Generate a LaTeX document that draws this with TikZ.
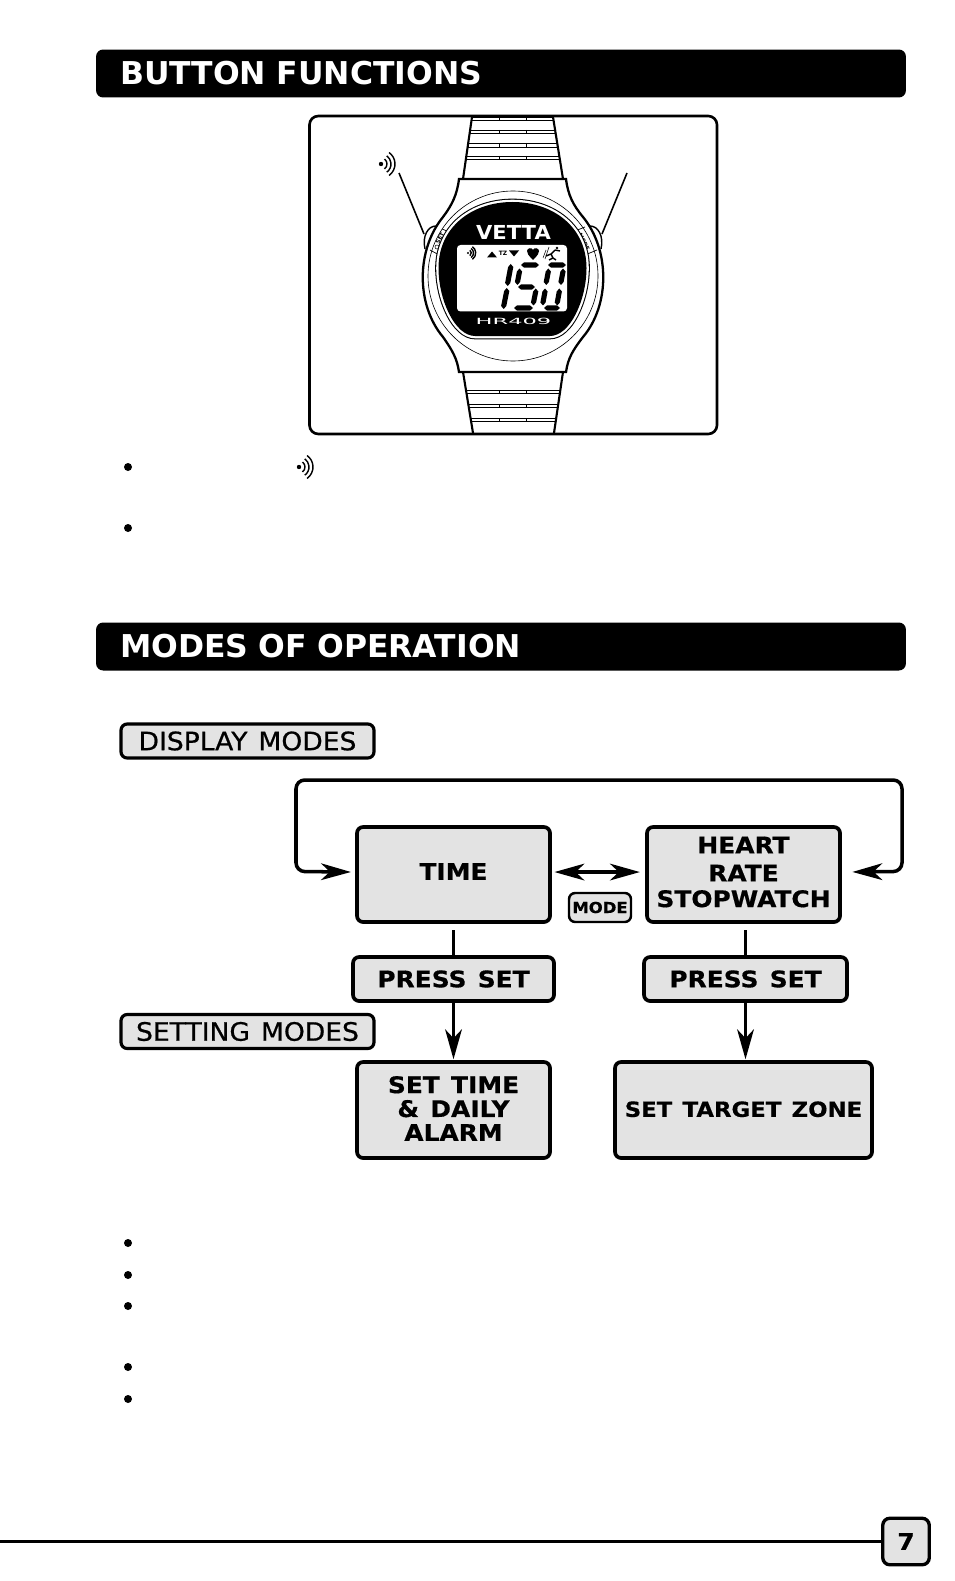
\documentclass[tikz,border=0pt]{standalone}
\usepackage{fontspec}
\setmainfont{DejaVu Sans}
\newfontface\titleFont[WordSpace=1.6]{DejaVu Sans Bold}
\newfontface\boxFont[FakeStretch=1.09,FakeBold=0.5,WordSpace=1.3]{DejaVu Sans Bold}
\newfontface\tagFont[FakeStretch=1.05,FakeBold=0.7,WordSpace=1.3]{DejaVu Sans}
\usetikzlibrary{arrows.meta}
\definecolor{boxGray}{HTML}{E3E3E3}
\newcommand{\signalIcon}[3]{%
  \begin{scope}[shift={(#1,#2)},scale=#3]
    \fill (0,0) circle (2.2);
    \foreach \r in {6,10,14}
    {
      \draw[line width=0.8pt] (55:\r) arc (55:-55:\r);
    }
  \end{scope}}
\def\faceShape{(438.5,268) .. controls (438.5,227) and (472,202) .. (512.5,202)
  .. controls (553,202) and (586.5,227) .. (586.5,268)
  .. controls (586.5,300) and (570,336) .. (550,336) -- (475,336)
  .. controls (455,336) and (438.5,300) .. (438.5,268) -- cycle}
\begin{document}
\begin{tikzpicture}
[x=0.02cm,y=-0.02cm,
  titleDecorate/.style={fill=black,text=white,rounded corners=4pt,inner ysep=0pt,
    inner xsep=0.48cm,text width=15.24cm,minimum height=0.96cm,align=left,
    font=\fontsize{17.9}{20}\titleFont},%
  tagDecorate/.style={draw,fill=boxGray,line width=1.8pt,rounded corners=3.5pt,
    inner sep=0pt,minimum width=5.06cm,minimum height=0.68cm,
    font=\fontsize{14.4}{16}\tagFont},%
  boxDecorate/.style={draw,fill=boxGray,line width=2.1pt,rounded corners=3.5pt,
    inner sep=0pt,align=center,font=\fontsize{13}{15.2}\boxFont},%
  lineDecorate/.style={line width=2pt},%
  arrowDecorate/.style={lineDecorate,-{Stealth[length=17pt,width=9.5pt,inset=5pt]}},%
  bothDecorate/.style={lineDecorate,
    {Stealth[length=17pt,width=9.5pt,inset=5pt]}-{Stealth[length=17pt,width=9.5pt,inset=5pt]}},%
  bandDecorate/.style={line width=0.5pt}]
\useasboundingbox (0,0) rectangle (954,1581);
%% headings
\node (buttonTitle) at (501,73.5) [titleDecorate] {BUTTON FUNCTIONS};
\node (modesTitle) at (501,646.5) [titleDecorate] {MODES OF OPERATION};
%% watch frame and strap
\draw[line width=1.5pt,rounded corners=5pt] (309.5,116) rectangle (717,434);
\draw[line width=1.2pt] (472,117) -- (463,179) (553,117) -- (563,179)
  (463,372) -- (473,433) (563,372) -- (554,433);
\foreach \y/\z/\xa/\xb in {117/120/472/553, 130/133/470/555, 143/147/468/557, 156/159/466/559,
  390/393/466/560, 404/407/468/558, 418/421/471/556}
{
  \draw[bandDecorate] (\xa,\y) -- (\xb,\y) (\xa,\z) -- (\xb,\z)
    (499,\y) -- (499,\z) (526,\y) -- (526,\z);
}
%% buttons and leaders
\draw[fill=white,line width=0.8pt] (436,226) .. controls (428,226) and (422,236) .. (425,249);
\draw[fill=white,line width=0.8pt] (590,226) .. controls (598,226) and (604,236) .. (601,249);
\draw[line width=0.9pt] (399,173) -- (424,234) (627,173) -- (602,234);
\signalIcon{381}{164}{1}
%% case
\draw[fill=white,line width=1.3pt] (459,179) -- (566,179)
  .. controls (568,195) and (573,205) .. (583,217)
  .. controls (610,250) and (610,305) .. (583,337)
  .. controls (573,350) and (568,358) .. (566,372) -- (459,372)
  .. controls (457,358) and (452,350) .. (443,337)
  .. controls (416,305) and (416,250) .. (443,217)
  .. controls (452,205) and (457,195) .. (459,179) -- cycle;
\draw[line width=0.35pt] (513,276) circle (85);
\draw[line width=0.4pt] (442,229) -- (452,233) (430,250) -- (441,256)
  (575,231) -- (585,227) (585,255) -- (597,250);
\node (setMark) at (440,238) [rotate=62,inner sep=0pt,font=\fontsize{3.2}{4}\selectfont\bfseries] {SET};
\draw[line width=0.3pt] (437,247) circle (2);
\node (modeMark) at (584,242) [rotate=-65,inner sep=0pt,font=\fontsize{3.2}{4}\selectfont\bfseries] {MODE};
%% face
\draw[line width=3.8pt] \faceShape;
\draw[white,line width=2.6pt] \faceShape;
\fill \faceShape;
\node (brandMark) at (513.5,232) [white,inner sep=0pt] {\resizebox{42.5pt}{8pt}{\bfseries VETTA}};
\node (modelMark) at (513.5,321) [white,inner sep=0pt] {\resizebox{43pt}{3.6pt}{HR409}};
\fill[white,rounded corners=2pt] (457,245) rectangle (567,311.5);
\signalIcon{468}{253}{0.55}
\fill (487,257.5) -- (497,257.5) -- (492,251.5) -- cycle;
\fill (509,250.5) -- (519,250.5) -- (514,256.5) -- cycle;
\node (zoneMark) at (503,253) [inner sep=0pt,font=\fontsize{3.4}{4}\selectfont\bfseries] {TZ};
\fill (533,260) .. controls (528,255) and (527,253) .. (527,251)
  .. controls (527,248) and (532,247) .. (533,250)
  .. controls (534,247) and (539,248) .. (539,251)
  .. controls (539,253) and (538,255) .. (533,260) -- cycle;
%% runner
\fill (557,248) circle (1.4);
\draw[line width=0.8pt] (555,250) -- (551,254) -- (553,258) -- (549,260) (551,254) -- (546,256)
  (555,250) -- (560,251) (553,258) -- (556,260);
\draw[line width=0.3pt] (546,250) -- (543,258) (549,247) -- (545,259);
%% digits, upright and lying segments
\foreach \xa/\ya/\xb/\yb in {
  510.7/264/507.7/286, 506.7/288/503.7/309,
  519.5/268.5/517.5/285, 535.7/288.5/533.5/305.5,
  563/268.5/561/285, 548.3/268.5/546.3/285, 545/288.5/543/305.5, 559.3/288.5/557.3/305.5}
{
  \fill (\xa,\ya) -- (\xa+2.6,\ya+3) -- (\xb+2.6,\yb-3) -- (\xb,\yb)
    -- (\xb-2.6,\yb-3) -- (\xa-2.6,\ya+3) -- cycle;
}
\foreach \xa/\xb/\y in {
  521/539/265, 518/535/287, 514/533/308,
  548/566/265, 544/560/308}
{
  \fill (\xa,\y) -- (\xa+3,\y-2.6) -- (\xb-3,\y-2.6) -- (\xb,\y)
    -- (\xb-3,\y+2.6) -- (\xa+3,\y+2.6) -- cycle;
}
%% bullets
\foreach \y in {467, 528, 1243, 1275, 1306, 1367, 1399}
{
  \fill (128,\y) circle (4);
}
\signalIcon{299}{467}{1}
%% mode tags
\node (displayTag) at (247.5,741) [tagDecorate] {DISPLAY MODES};
\node (settingTag) at (247.5,1031.5) [tagDecorate] {SETTING MODES};
%% boxes
\foreach \nodename/\x/\y/\w/\h/\boxtext in {
  time/453.5/874.5/193/95/{TIME\rule[-3.4pt]{0pt}{3.4pt}},
  heart/743.5/874.5/193/95/{HEART\\[0.8pt]RATE\\[-0.6pt]STOPWATCH\rule[-3pt]{0pt}{3pt}},
  pressLeft/453.5/979/201/44/{PRESS SET},
  pressRight/745.5/979/203/44/{PRESS SET},
  setTime/453.5/1110/193/96/{SET TIME\\[-1.6pt]\& DAILY\\[-1.6pt]ALARM\rule[-1.7pt]{0pt}{1.7pt}},
  setZone/743.5/1110/257/96/{\fontsize{11.9}{14}\selectfont SET TARGET ZONE\rule[-1pt]{0pt}{1pt}}}
{
  \node (\nodename) at (\x,\y) [boxDecorate,minimum width=\w*0.02cm,minimum height=\h*0.02cm] {\boxtext};
}
\node (modeTag) at (600,907.5) [draw,fill=boxGray,line width=1.4pt,rounded corners=3.5pt,
  inner sep=0pt,minimum width=1.24cm,minimum height=0.58cm,
  font=\fontsize{8.6}{10}\boxFont] {MODE};
\node (pageNo) at (906,1541.5) [draw,fill=boxGray,line width=1.9pt,rounded corners=4pt,
  inner sep=0pt,minimum size=0.93cm,font=\fontsize{13}{15}\boxFont] {7};
%% edges or lines
\coordinate (loopSW) at (296,871.5);
\coordinate (loopNW) at (296,780);
\coordinate (loopNE) at (902,780);
\coordinate (loopSE) at (902,871.5);
\coordinate (pageStart) at (0,1541.5);
\draw[bothDecorate,rounded corners=5pt,shorten <=2.4pt,shorten >=6pt] ([yshift=1.4pt]time.west)
  -- (loopSW) -- (loopNW) -- (loopNE) -- (loopSE) -- ([yshift=1.4pt]heart.east);
\draw[bothDecorate,shorten <=1.5pt,shorten >=3pt] ([yshift=1.4pt]time.east) -- ([yshift=1.4pt]heart.west);
\draw[lineDecorate,shorten <=3.5pt] (time.south) -- (pressLeft.north);
\draw[lineDecorate,shorten <=3.5pt] (heart.south -| pressRight.north) -- (pressRight.north);
\draw[arrowDecorate,shorten >=0.5pt] (pressLeft.south) -- (setTime.north);
\draw[arrowDecorate,shorten >=0.5pt] (pressRight.south) -- (setZone.north -| pressRight.south);
\draw[line width=1.4pt] (pageStart) -- (pageNo.west);
\end{tikzpicture}
\end{document}
